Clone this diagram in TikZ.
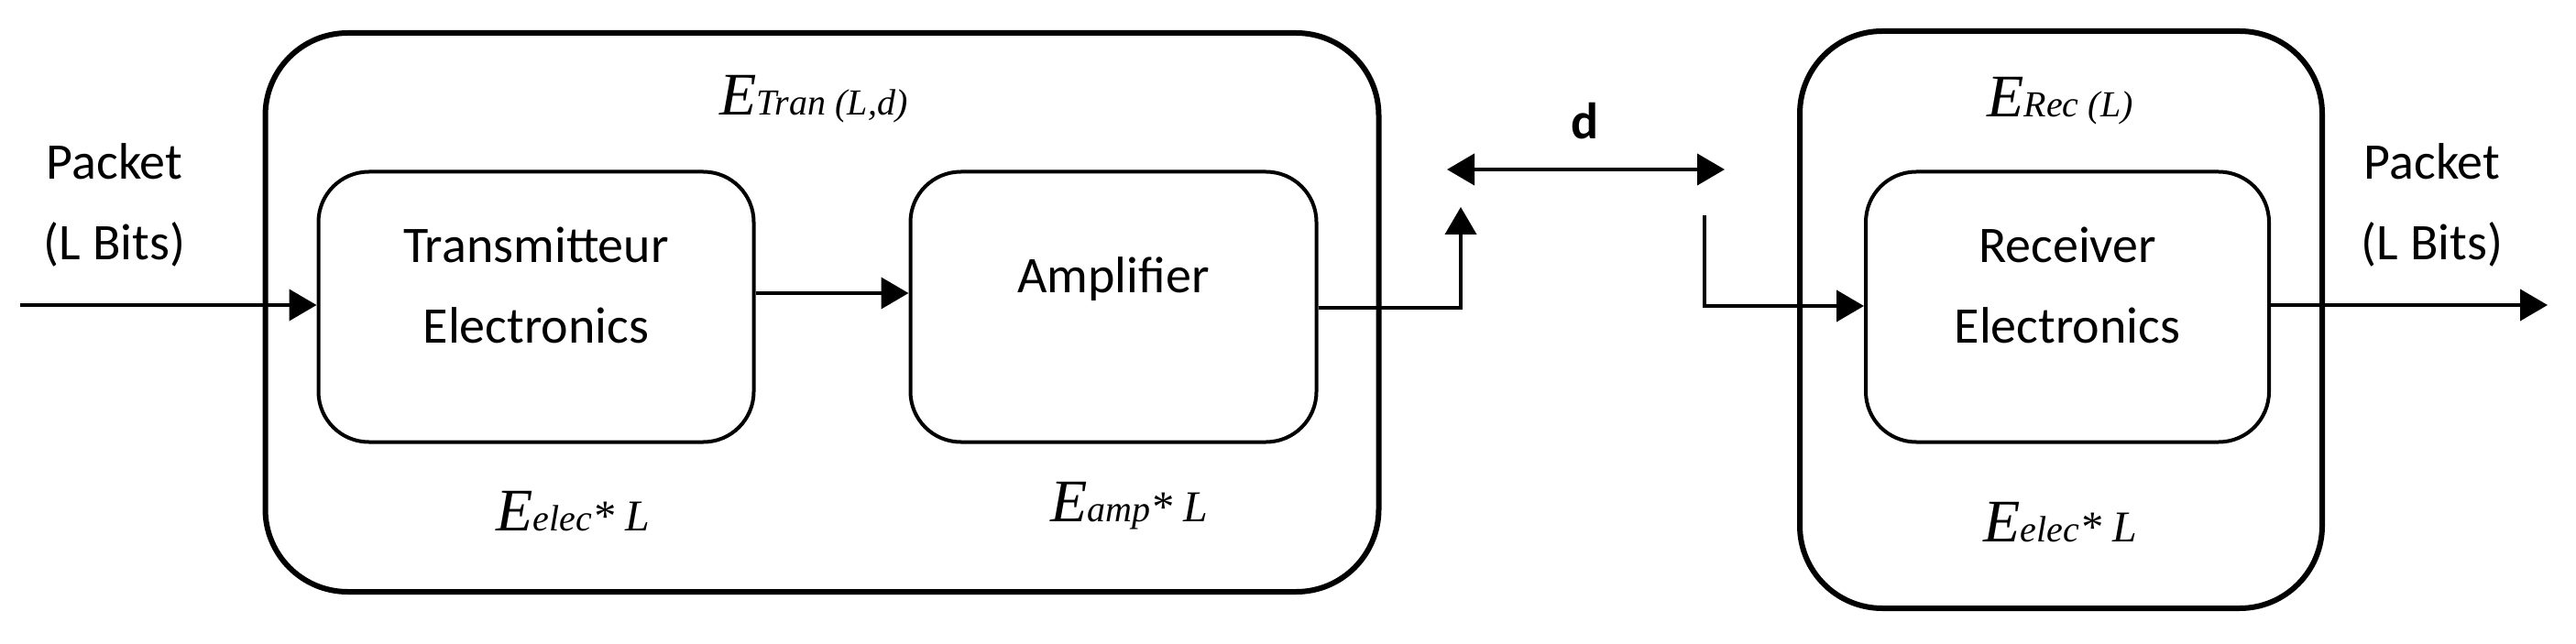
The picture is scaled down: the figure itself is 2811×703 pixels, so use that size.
\documentclass[tikz,border=0pt]{standalone}
\usepackage{fontspec}
\setmainfont{Carlito}
\newfontfamily\tms{Liberation Serif}
\usetikzlibrary{arrows.meta}
\begin{document}
\begin{tikzpicture}[x=1pt,y=-1pt,
  outer/.style={draw,line width=6pt,rounded corners=90pt,inner sep=0},
  inner/.style={draw,line width=4pt,rounded corners=55pt,inner sep=0},
  lbl/.style={font=\fontsize{56}{88}\selectfont,align=center},
  en/.style={font=\tms\itshape\fontsize{66}{66}\selectfont},
  arr/.style={line width=4pt,-{Triangle[length=30pt,width=34pt]}},
  every node/.style={inner sep=0}]
\useasboundingbox (0,0) rectangle (2811,703);
\node[outer,minimum width=1215pt,minimum height=610pt] (tx) at (897,341) {};
\node[outer,minimum width=570pt,minimum height=630pt] (rx) at (2249,349) {};
\node[inner,minimum width=475pt,minimum height=295pt] (te) at (585,335) {};
\node[inner,minimum width=443pt,minimum height=295pt] (am) at (1215,335) {};
\node[inner,minimum width=440pt,minimum height=295pt] (re) at (2256,335) {};
\node[lbl] at (585,311) {Transmitteur\\Electronics};
\node[lbl] at (1215,305) {Amplifier};
\node[lbl] at (2256,311) {Receiver\\Electronics};
\node[lbl] (pin) at (125,224) {Packet\\(L Bits)};
\node[lbl] (pout) at (2654,224) {Packet\\(L Bits)};
\node[en] at (888,108) {E{\fontsize{40}{40}\selectfont Tran (L,d)}};
\node[en] at (2248,110) {E{\fontsize{40}{40}\selectfont Rec (L)}};
\node[en] at (625,558) {E{\fontsize{40}{40}\selectfont elec}{\fontsize{48}{48}\selectfont* L}};
\node[en] at (1232,552) {E{\fontsize{40}{40}\selectfont amp}{\fontsize{48}{48}\selectfont* L}};
\node[en] at (2248,570) {E{\fontsize{40}{40}\selectfont elec}{\fontsize{48}{48}\selectfont* L}};
\node[font=\bfseries\fontsize{56}{56}\selectfont] (d) at (1730,132) {d};
\coordinate (in) at (22,333);
\coordinate (up) at (1594,226);
\coordinate (dl) at (1579,185);
\coordinate (dr) at (1882,185);
\coordinate (rs) at (1860,235);
\coordinate (out) at (2780,333);
\draw[arr] (in) -- (te.west |- in);
\draw[arr] (te.east |- 0,320) -- (am.west |- 0,320);
\draw[arr] (am.east |- 0,336) -| (up);
\draw[line width=4pt,{Triangle[length=30pt,width=34pt]}-{Triangle[length=30pt,width=34pt]}] (dl) -- (dr);
\draw[arr] (rs) |- (re.west |- 0,334);
\draw[arr] (re.east |- out) -- (out);
\end{tikzpicture}
\end{document}
